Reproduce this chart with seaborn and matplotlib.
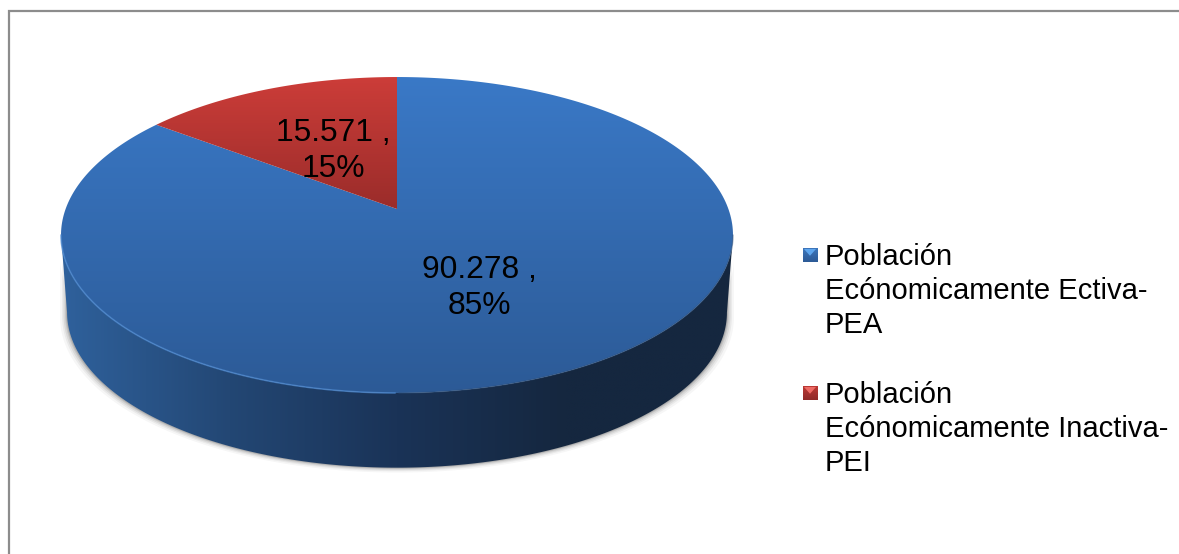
import numpy as np
import matplotlib
matplotlib.use("Agg")
import matplotlib.pyplot as plt
import seaborn as sns
from matplotlib.patches import Polygon
from matplotlib.colors import LinearSegmentedColormap as LSC

# ---- data ----
categories = ["Población\nEcónomicamente Ectiva-\nPEA",
              "Población\nEcónomicamente Inactiva-\nPEI"]
values = [90278, 15571]
value_labels = ["90.278 ,\n85%", "15.571 ,\n15%"]

W, H = 1179, 554
sns.set_theme(style="white")
plt.rcParams['font.family'] = ['Liberation Sans', 'DejaVu Sans']

fig = plt.figure(figsize=(W/100, H/100), dpi=100, facecolor="white")
ax = fig.add_axes([0, 0, 1, 1])
ax.set_xlim(0, W); ax.set_ylim(H, 0); ax.axis("off")

# chart frame: only left and top edges fall inside the picture
ax.plot([W, 9, 9], [11, 11, H], color="#8C8C8C", lw=1.6, zorder=0, solid_joinstyle="miter")

# perspective projection of the unit disc onto the page
CX, CY, A, B, K = 397.0, 209.0, 331.4, 153.7, 0.1646
def proj(theta, r=1.0, s=1.0, dy=0.0):
    u, v = r*np.sin(theta), r*np.cos(theta)
    w = 1 + K*v
    return CX + s*A*u/w, CY + dy - s*B*v/w

fracs = np.array(values, float)/sum(values)
edges = np.concatenate([[0], np.cumsum(fracs)])*2*np.pi

def wedge(i, n=300):
    t = np.linspace(edges[i], edges[i+1], n)
    x, y = proj(t)
    return np.column_stack([np.r_[CX, x], np.r_[CY, y]])

def grad(poly, stops, extent, horizontal=False, z=2):
    cmap = LSC.from_list("g", stops)
    g = np.linspace(0, 1, 256)
    g = g[None, :] if horizontal else g[:, None]
    im = ax.imshow(g, cmap=cmap, extent=extent, aspect="auto", zorder=z, interpolation="bilinear")
    p = Polygon(poly, closed=True, fc="none", ec="none", transform=ax.transData)
    ax.add_patch(p)
    im.set_clip_path(p)
    ax.set_xlim(0, W); ax.set_ylim(H, 0)

# side wall outline, from the widest points of the top disc to those of the base
S, DY = 0.982, 78.0
t0 = np.arccos(-K)
front = np.linspace(t0, 2*np.pi - t0, 300)
bfx, bfy = proj(front, s=S, dy=DY)
tfx, tfy = proj(front)
wall = np.column_stack([np.r_[bfx, tfx[::-1]], np.r_[bfy, tfy[::-1]]])

# soft shadow behind wall
for grow, alpha in zip([7, 5, 3.5, 2, 1], [.035, .05, .07, .09, .12]):
    sx = CX + (bfx - CX)*(1 + grow/330)
    sy = bfy + grow*0.7
    ax.fill(np.r_[sx, sx[::-1]], np.r_[sy, sy[::-1]-60], color="black", alpha=alpha, lw=0, zorder=1)

grad(wall, ["#15273F", "#15273F", "#1A3357", "#234774", "#2F619C"],
     [CX+336, CX-336, 470, 230], horizontal=True, z=2)

# top surface
x_top = CX - 340, CX + 340
blue = wedge(0); red = wedge(1)
grad(blue, ["#3A79C7", "#2C5A96"], [x_top[0], x_top[1], 395, 75], z=3)
grad(red, ["#CD3D39", "#9A2C2A"], [x_top[0], x_top[1], 210, 75], z=3)

# bevel along the front rim
ax.plot(tfx[:150], tfy[:150], color="#2E4F78", lw=1.0, alpha=.5, zorder=4)
ax.plot(tfx[150:], tfy[150:], color="#4C88CF", lw=1.2, alpha=.7, zorder=4)

# value labels
label_pos = [(479, 288), (333, 151)]
for (x, y), s in zip(label_pos, value_labels):
    ax.text(x, y, s, ha="center", va="center", fontsize=22.9, color="black",
            linespacing=1.29, zorder=6)

# legend
legend_y = [255, 393]
swatch = [("#2C5A96", "#3F78BE", "#5DA5EE"), ("#8F2A28", "#BF3A36", "#EE6A64")]
for y, txt, (c0, c1, c2) in zip(legend_y, categories, swatch):
    s = 15
    x0, y0 = 802.5, y - s/2
    sq = np.array([(x0, y0), (x0+s, y0), (x0+s, y0+s), (x0, y0+s)])
    grad(sq, [c1, c0], [x0, x0+s, y0+s, y0], z=5)
    ax.add_patch(Polygon([(x0+1.5, y0+1.5), (x0+s-1.5, y0+1.5), (x0+s/2, y0+s*0.55)],
                         fc=c2, ec="none", zorder=6))
    ax.text(825, y - 12, txt, ha="left", va="top", fontsize=21, color="black",
            linespacing=1.27, zorder=6)

fig.savefig("out.png", dpi=100)
